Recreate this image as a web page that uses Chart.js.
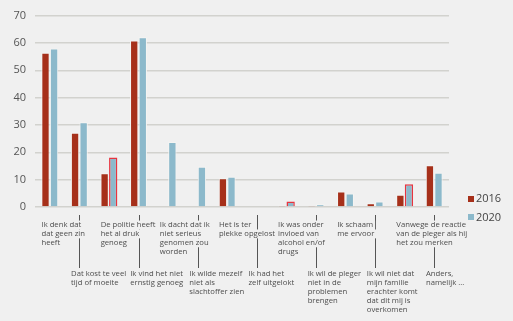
<!DOCTYPE html>
<html>
<head>
<meta charset="utf-8">
<script src="https://cdn.jsdelivr.net/npm/chart.js@4/dist/chart.umd.min.js"></script>
<style>
  html, body { margin: 0; padding: 0; background: #f0f0f0; }
  #wrap { width: 513px; height: 321px; }
</style>
</head>
<body>
<div id="wrap"><canvas id="chartRedenen" width="513" height="321"></canvas></div>
<script>
// redenen om geen aangifte te doen, 2016 vs 2020 (%)
var labels = [
    ['Ik denk dat', 'dat geen zin', 'heeft'],
    ['Dat kost te veel', 'tijd of moeite'],
    ['De politie heeft', 'het al druk', 'genoeg'],
    ['Ik vind het niet', 'ernstig genoeg'],
    ['Ik dacht dat ik', 'niet serieus', 'genomen zou', 'worden'],
    ['Ik wilde mezelf', 'niet als', 'slachtoffer zien'],
    ['Het is ter', 'plekke opgelost'],
    ['Ik had het', 'zelf uitgelokt'],
    ['Ik was onder', 'invloed van', 'alcohol en/of', 'drugs'],
    ['Ik wil de pleger', 'niet in de', 'problemen', 'brengen'],
    ['Ik schaam', 'me ervoor'],
    ['Ik wil niet dat', 'mijn familie', 'erachter komt', 'dat dit mij is', 'overkomen'],
    ['Vanwege de reactie', 'van de pleger als hij', 'het zou merken'],
    ['Anders,', 'namelijk ...']
];
var data2016 = [56.4, 27.2, 12.3, 60.9, 0, 0, 10.5, 0, 0.5, 0.4, 5.7, 1.4, 4.5, 15.3];
var data2020 = [58.0, 31.0, 18.1, 62.1, 23.8, 14.7, 11.1, 0, 2.0, 1.0, 4.9, 2.0, 8.3, 12.5];
// significante verschillen (rood omlijnd)
var significant2020 = [2, 8, 12];
var yTicks = [0, 10, 20, 30, 40, 50, 60, 70];

var bg = '#f0f0f0';
var red = '#a6301a';
var blue = '#8cb9cb';
var textColor = '#4d4d4d';

function borderColors(sig, normal) {
    var result = [];
    for (var i = 0; i < labels.length; i++) {
        result.push(sig.indexOf(i) >= 0 ? '#e8343f' : normal);
    }
    return result;
}

function borderWidths(sig) {
    var result = [];
    for (var i = 0; i < labels.length; i++) {
        result.push(sig.indexOf(i) >= 0 ? 1.5 : 1);
    }
    return result;
}

// labels onder de as in twee rijen, met streepjes naar de tweede rij
var labelPlugin = {
    id: 'labelRows',
    afterDraw: function(chart) {
        var ctx = chart.ctx;
        var x = chart.scales.x;
        var lineH = 8.9;
        ctx.save();
        ctx.strokeStyle = '#555555';
        ctx.lineWidth = 1;
        for (var i = 1; i < labels.length; i += 2) {
            var px = Math.round(x.getPixelForValue(i)) + 0.5;
            ctx.beginPath();
            ctx.moveTo(px, 215);
            ctx.lineTo(px, 268);
            ctx.stroke();
        }
        ctx.font = '7.7px "Open Sans"';
        ctx.textAlign = 'left';
        ctx.textBaseline = 'middle';
        for (var i = 0; i < labels.length; i++) {
            var lx = x.getPixelForValue(i) - 8.3;
            var top = (i % 2 == 0) ? 225 : 274;
            for (var j = 0; j < labels[i].length; j++) {
                var ty = top + j * lineH;
                var w = ctx.measureText(labels[i][j]).width;
                ctx.fillStyle = bg;
                ctx.fillRect(lx - 1, ty - lineH / 2, w + 3, lineH);
                ctx.fillStyle = textColor;
                ctx.fillText(labels[i][j], lx, ty);
            }
        }
        // legenda
        ctx.font = '11px "Open Sans"';
        ctx.fillStyle = red;
        ctx.fillRect(468, 196, 6, 6);
        ctx.fillStyle = blue;
        ctx.fillRect(468, 214, 6, 6);
        ctx.fillStyle = '#444444';
        ctx.fillText('2016', 476, 199);
        ctx.fillText('2020', 476, 217.5);
        ctx.restore();
    }
};

var ctx = document.getElementById('chartRedenen');
var chart = new Chart(ctx, {
    type: 'bar',
    data: {
        labels: labels.map(function(l) { return l.join(' '); }),
        datasets: [{
            label: '2016',
            data: data2016,
            backgroundColor: red,
            borderColor: '#f4f4f2',
            borderWidth: 1
        }, {
            label: '2020',
            data: data2020,
            backgroundColor: blue,
            borderColor: borderColors(significant2020, '#f4f4f2'),
            borderWidth: borderWidths(significant2020)
        }]
    },
    plugins: [labelPlugin],
    options: {
        responsive: false,
        animation: false,
        events: [],
        categoryPercentage: 0.58,
        barPercentage: 0.97,
        layout: {
            padding: { top: 14, right: 64, bottom: 114, left: 0 }
        },
        plugins: {
            legend: { display: false },
            tooltip: { enabled: false }
        },
        scales: {
            x: {
                ticks: { display: false },
                grid: { display: false },
                border: { display: false },
                afterFit: function(axis) { axis.height = 0; }
            },
            y: {
                min: 0,
                max: 70,
                afterBuildTicks: function(axis) {
                    axis.ticks = yTicks.map(function(v) { return { value: v }; });
                },
                ticks: {
                    color: '#555555',
                    font: { family: 'Open Sans', size: 11 },
                    padding: 9
                },
                grid: {
                    color: '#d2d2ce',
                    lineWidth: 1.4,
                    drawTicks: false
                },
                border: { display: false },
                afterFit: function(axis) { axis.width = 35; }
            }
        }
    }
});
</script>
</body>
</html>
